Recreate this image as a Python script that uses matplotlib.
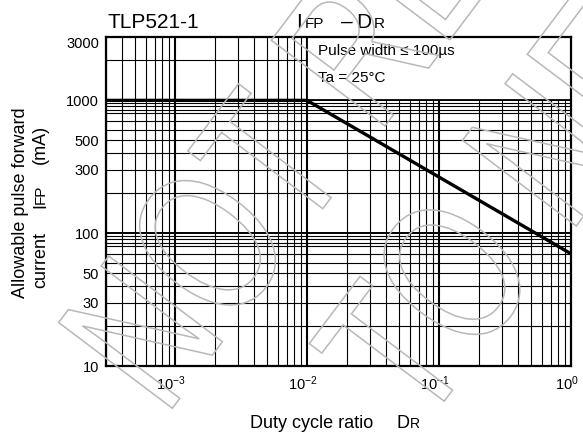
import numpy as np
import matplotlib
matplotlib.use('Agg')
import matplotlib.pyplot as plt
import matplotlib.transforms as mtransforms
from matplotlib.patches import Rectangle, PathPatch
from matplotlib.textpath import TextPath
from matplotlib.font_manager import FontProperties

plt.rcParams['font.family'] = ['Liberation Sans', 'DejaVu Sans']
plt.rcParams['mathtext.fontset'] = 'custom'
plt.rcParams['mathtext.rm'] = 'Liberation Sans'
plt.rcParams['mathtext.it'] = 'Liberation Sans:italic'
plt.rcParams['mathtext.bf'] = 'Liberation Sans:bold'

# curve: IFP vs duty ratio
duty = [3e-4, 1e-2, 1.0]
ifp = [1000, 1000, 70]

# axis ticks and grid
xticks = [1e-3, 1e-2, 1e-1, 1e0]
xticklabels = [r'$10^{-3}$', r'$10^{-2}$', r'$10^{-1}$', r'$10^{0}$']
yticks = [10, 30, 50, 100, 300, 500, 1000, 3000]
yticklabels = ['10', '30', '50', '100', '300', '500', '1000', '3000']
ygrid_thin = [20, 30, 40, 50, 60, 70, 80, 85, 90, 95,
              200, 300, 400, 500, 600, 700, 800, 850, 900, 950, 2000]
ygrid_thick = [100, 1000]
xgrid_thick = [1e-3, 1e-2, 1e-1]
xgrid_thin = [k * 10.0 ** d for d in (-4, -3, -2, -1) for k in range(2, 10)]

W, H = 583, 434
fig = plt.figure(figsize=(W / 100, H / 100), dpi=100)
ax = fig.add_axes([106 / W, (H - 366) / H, (571 - 106) / W, (366 - 37) / H])
ax.set_xscale('log')
ax.set_yscale('log')
ax.set_xlim(3e-4, 1)
ax.set_ylim(10, 3000)

# grid drawn by hand (mixed weights)
for v in xgrid_thin:
    if 3e-4 < v < 1:
        ax.axvline(v, color='black', lw=0.8, zorder=0.5)
for v in xgrid_thick:
    ax.axvline(v, color='black', lw=1.5, zorder=0.5)
for v in ygrid_thin:
    ax.axhline(v, color='black', lw=0.8, zorder=0.5)
for v in ygrid_thick:
    ax.axhline(v, color='black', lw=1.4, zorder=0.5)

# white box for the conditions
ax.add_patch(Rectangle((1e-2, 1000), 1 - 1e-2, 2000, facecolor='white',
                       edgecolor='black', lw=1.3, zorder=1))
ax.text(0.0121, 2180, 'Pulse width \u2264 100\u00b5s', fontsize=11, va='baseline', zorder=2)
ax.text(0.0121, 1380, 'Ta = 25\u00b0C', fontsize=11, va='baseline', zorder=2)

ax.plot(duty, ifp, color='black', lw=2.4, zorder=3, solid_capstyle='butt')

ax.set_xticks(xticks)
ax.set_xticklabels(xticklabels, fontsize=10.5)
ax.xaxis.set_minor_locator(matplotlib.ticker.NullLocator())
ax.set_yticks(yticks)
ax.set_yticklabels(yticklabels, fontsize=10.5)
ax.yaxis.set_minor_locator(matplotlib.ticker.NullLocator())
ax.tick_params(length=0, which='both')
ax.tick_params(axis='x', pad=6)
ax.tick_params(axis='y', pad=5)
for sp in ax.spines.values():
    sp.set_linewidth(1.6)
    sp.set_zorder(4)

shift = mtransforms.ScaledTranslation(-4 / 100, 0, fig.dpi_scale_trans)
for lab in ax.get_xticklabels():
    lab.set_transform(lab.get_transform() + shift)
top_lab = ax.get_yticklabels()[-1]
top_lab.set_va('top')

rend = fig.canvas.get_renderer()


def run(x, y, parts, rot=0):
    # place text pieces one after another, x/y in pixels from top-left
    for s, size, gap in parts:
        t = fig.text(x / W, 1 - y / H, s, fontsize=size, rotation=rot,
                     rotation_mode='anchor', ha='left', va='baseline')
        bb = t.get_window_extent(renderer=rend)
        if rot == 0:
            x += bb.width + gap
        else:
            y -= bb.height + gap


run(108, 28, [('TLP521-1', 15, 0)])
run(296, 28, [('I', 15, 3), ('FP', 11, 0)])
run(341, 28, [('\u2013', 15, 0)])
run(356, 28, [('D', 15, 3), ('R', 11, 0)])

run(250, 427.5, [('Duty cycle ratio', 13, 0)])
run(396, 427.5, [('D', 13, 0.5), ('R', 10, 0)])

run(25, 298, [('Allowable pulse forward', 13, 0)], rot=90)
run(45, 288, [('current', 13, 23.5), ('I', 13, 0), ('FP', 11, 20), ('(mA)', 13, 0)], rot=90)

# faint outlined watermark
wm_font = FontProperties(family='Liberation Sans')
for txt, ox, oy in [('NOT RECOMMENDED', 165, 16), ('TO NEW DESIGN', 421, 2)]:
    tp = TextPath((0, 0), txt, size=207, prop=wm_font)
    tr = mtransforms.Affine2D().scale(0.72, 1).rotate_deg(53).translate(ox, oy)
    fig.add_artist(PathPatch(tp, transform=tr, facecolor='none',
                             edgecolor='#b8b8b8', lw=1.1, zorder=10))

fig.savefig('out.png', dpi=100)
